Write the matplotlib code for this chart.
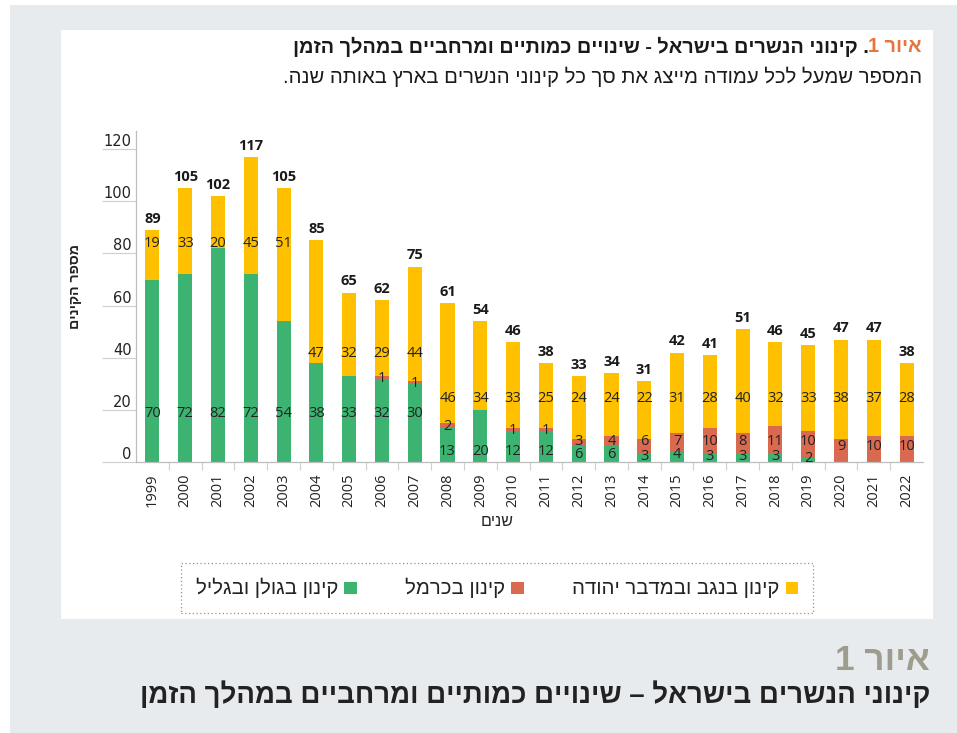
import matplotlib
matplotlib.use("Agg")
import matplotlib.pyplot as plt
import numpy as np
from matplotlib.patches import Rectangle, Patch

# ---------------- data ----------------
years = ["1999", "2000", "2001", "2002", "2003", "2004", "2005", "2006",
         "2007", "2008", "2009", "2010", "2011", "2012", "2013", "2014",
         "2015", "2016", "2017", "2018", "2019", "2020", "2021", "2022"]
golan = [70, 72, 82, 72, 54, 38, 33, 32, 30, 13, 20, 12, 12, 6, 6, 3, 4, 3, 3, 3, 2, 0, 0, 0]
carmel = [0, 0, 0, 0, 0, 0, 0, 1, 1, 2, 0, 1, 1, 3, 4, 6, 7, 10, 8, 11, 10, 9, 10, 10]
negev = [19, 33, 20, 45, 51, 47, 32, 29, 44, 46, 34, 33, 25, 24, 24, 22, 31, 28, 40, 32, 33, 38, 37, 28]
totals = [89, 105, 102, 117, 105, 85, 65, 62, 75, 61, 54, 46, 38, 33, 34, 31, 42, 41, 51, 46, 45, 47, 47, 38]
yticks = [0, 20, 40, 60, 80, 100, 120]

series_names = ["קינון בגולן ובגליל", "קינון בכרמל", "קינון בנגב ובמדבר יהודה"]
title_fig = "איור 1"
title_rest = ". קינוני הנשרים בישראל - שינויים כמותיים ומרחביים במהלך הזמן"
subtitle = "המספר שמעל לכל עמודה מייצג את סך כל קינוני הנשרים בארץ באותה שנה."
ylabel = "מספר הקינים"
xlabel = "שנים"
caption_fig = "איור 1"
caption = "קינוני הנשרים בישראל – שינויים כמותיים ומרחביים במהלך הזמן"

GREEN = "#3cb371"
RED = "#d9694f"
YELLOW = "#ffc000"
HEB = ["Liberation Sans", "DejaVu Sans"]
NUM = ["Open Sans", "DejaVu Sans"]


def vis(s):
    """logical Hebrew -> visual order (no bidi support in matplotlib)"""
    return s[::-1]


W, H = 957, 733
fig = plt.figure(figsize=(W / 100, H / 100), dpi=100)
fig.patch.set_facecolor("white")


def fx(px):
    return px / W


def fy(py):
    return 1 - py / H


# background panels
fig.add_artist(Rectangle((fx(10), 0), fx(957 - 10), 1 - 5 / H, transform=fig.transFigure,
                         facecolor="#e8ebee", edgecolor="none", zorder=0))
fig.add_artist(Rectangle((fx(61), fy(619)), fx(933 - 61), (619 - 30) / H, transform=fig.transFigure,
                         facecolor="white", edgecolor="none", zorder=0.5))

ax = fig.add_axes([fx(136), fy(462), fx(923 - 136), (462 - 131) / H])
ax.set_zorder(2)
ax.patch.set_alpha(0)

x = np.arange(len(years))
g = np.array(golan)
c = np.array(carmel)
n = np.array(negev)
bw = 0.43
ax.bar(x, g, bw, color=GREEN, zorder=2)
ax.bar(x, c, bw, bottom=g, color=RED, zorder=2)
ax.bar(x, n, bw, bottom=g + c, color=YELLOW, zorder=2)

ax.set_xlim(-0.5, len(years) - 0.5)
ax.set_ylim(0, 127)

# segment labels
lab_kw = dict(ha="center", va="center", fontsize=10.5, family=NUM, color="#222222", zorder=3)
for i in range(len(years)):
    gv, cv, nv = golan[i], carmel[i], negev[i]
    if gv > 0:
        gy = 18.5 if gv >= 25 else (4.2 if gv >= 10 else min(2.7, gv * 0.75))
        ax.text(x[i], gy, str(gv), **lab_kw)
    if cv > 0:
        if cv <= 2:
            cy = gv + cv / 2 - 0.3
        else:
            cy = 8 if gv > 0 else 5.8
        ax.text(x[i], cy, str(cv), **lab_kw)
    if nv > 0:
        if gv >= 50:
            ny = 84
        elif gv >= 25:
            ny = 41.5
        else:
            ny = 24.5
        ax.text(x[i], ny, str(nv), **lab_kw)
    ax.annotate(str(totals[i]), (x[i], totals[i]), xytext=(0, 3), textcoords="offset points",
                ha="center", va="bottom", fontsize=10.5, fontweight="bold", family=NUM,
                color="#1a1a1a", zorder=3)

# axes styling
for s in ["top", "right"]:
    ax.spines[s].set_visible(False)
for s in ["left", "bottom"]:
    ax.spines[s].set_color("#bdbdbd")
    ax.spines[s].set_linewidth(0.9)

ax.set_yticks(yticks)
ax.set_yticklabels([str(v) for v in yticks])
ax.tick_params(axis="y", length=24.5, width=0.8, color="#cfcfcf", pad=-21.5,
               labelsize=10.5, labelcolor="#222222")
for lbl in ax.get_yticklabels():
    lbl.set_verticalalignment("bottom")
    lbl.set_family("DejaVu Sans")

ax.set_xticks(x)
ax.set_xticklabels(years, rotation=90)
ax.set_xticks(x[:-1] + 0.5, minor=True)
ax.tick_params(axis="x", which="major", length=0, pad=8, labelsize=10.5, labelcolor="#222222")
ax.tick_params(axis="x", which="minor", length=6, width=0.8, color="#cfcfcf")
for lbl in ax.get_xticklabels():
    lbl.set_family(NUM)

# texts
t_yl = fig.text(fx(75), fy(286), vis(ylabel), rotation=90, ha="center", va="center",
                fontsize=10, fontweight="bold", family=HEB, color="#222222")
t_xl = fig.text(fx(497), fy(522), vis(xlabel), ha="center", va="center",
                fontsize=11, family=HEB, color="#222222")

t_or = fig.text(fx(922), fy(47), vis(title_fig), ha="right", va="center", fontsize=12.5,
                family=HEB, color="#e8743b", fontweight="bold")
t_bl = fig.text(0, 0, vis(title_rest), ha="right", va="center", fontsize=12.5,
                family=HEB, color="#1a1a1a", fontweight="bold")
t_sub = fig.text(fx(922), fy(77), vis(subtitle), ha="right", va="center", fontsize=12,
                 family=HEB, color="#1a1a1a")

cap_fig = fig.text(fx(930), fy(660), vis(caption_fig), ha="right", va="center", fontsize=19,
                   family=HEB, color="#9e9c8c", fontweight="bold")
cap = fig.text(fx(930), fy(695), vis(caption), ha="right", va="center", fontsize=18,
               family=HEB, color="#222222", fontweight="bold")

# legend
handles = [Patch(facecolor=GREEN, edgecolor="none"),
           Patch(facecolor=RED, edgecolor="none"),
           Patch(facecolor=YELLOW, edgecolor="none")]
leg = fig.legend(handles, [vis(s) for s in series_names], ncol=3, markerfirst=False,
                 loc="center", bbox_to_anchor=(fx(181), fy(607), fx(813 - 181), 38 / H),
                 mode="expand", handlelength=0.75, handleheight=0.75,
                 handletextpad=0.35, borderpad=0.9, borderaxespad=0, frameon=True,
                 fancybox=False, prop={"family": HEB, "size": 12})
fr = leg.get_frame()
fr.set_edgecolor("#777777")
fr.set_linestyle((0, (1, 2)))
fr.set_linewidth(0.9)
for txt in leg.get_texts():
    txt.set_color("#222222")

# fit text widths to reference
fig.canvas.draw()
r = fig.canvas.get_renderer()


def width(t):
    return t.get_window_extent(r).width


def height(t):
    return t.get_window_extent(r).height


# title line 1 (orange + black) spans 290..922
tot = width(t_or) + width(t_bl)
scale = (922 - 290) / tot
t_or.set_fontsize(t_or.get_fontsize() * scale)
t_bl.set_fontsize(t_bl.get_fontsize() * scale)

t_sub.set_fontsize(t_sub.get_fontsize() * (922 - 283) / width(t_sub))
cap.set_fontsize(cap.get_fontsize() * (930 - 140) / width(cap))
cap_fig.set_fontsize(cap_fig.get_fontsize() * (930 - 835) / width(cap_fig))
t_yl.set_fontsize(t_yl.get_fontsize() * 85 / height(t_yl))
t_xl.set_fontsize(t_xl.get_fontsize() * 33 / width(t_xl))

ltxt = leg.get_texts()
lscale = 207 / width(ltxt[2])
for txt in ltxt:
    txt.set_fontsize(txt.get_fontsize() * lscale)

fig.canvas.draw()
ob = t_or.get_window_extent(r)
t_bl.set_position((ob.x0 / W, fy(47)))

fig.savefig("out.png", dpi=100, facecolor=fig.get_facecolor())
